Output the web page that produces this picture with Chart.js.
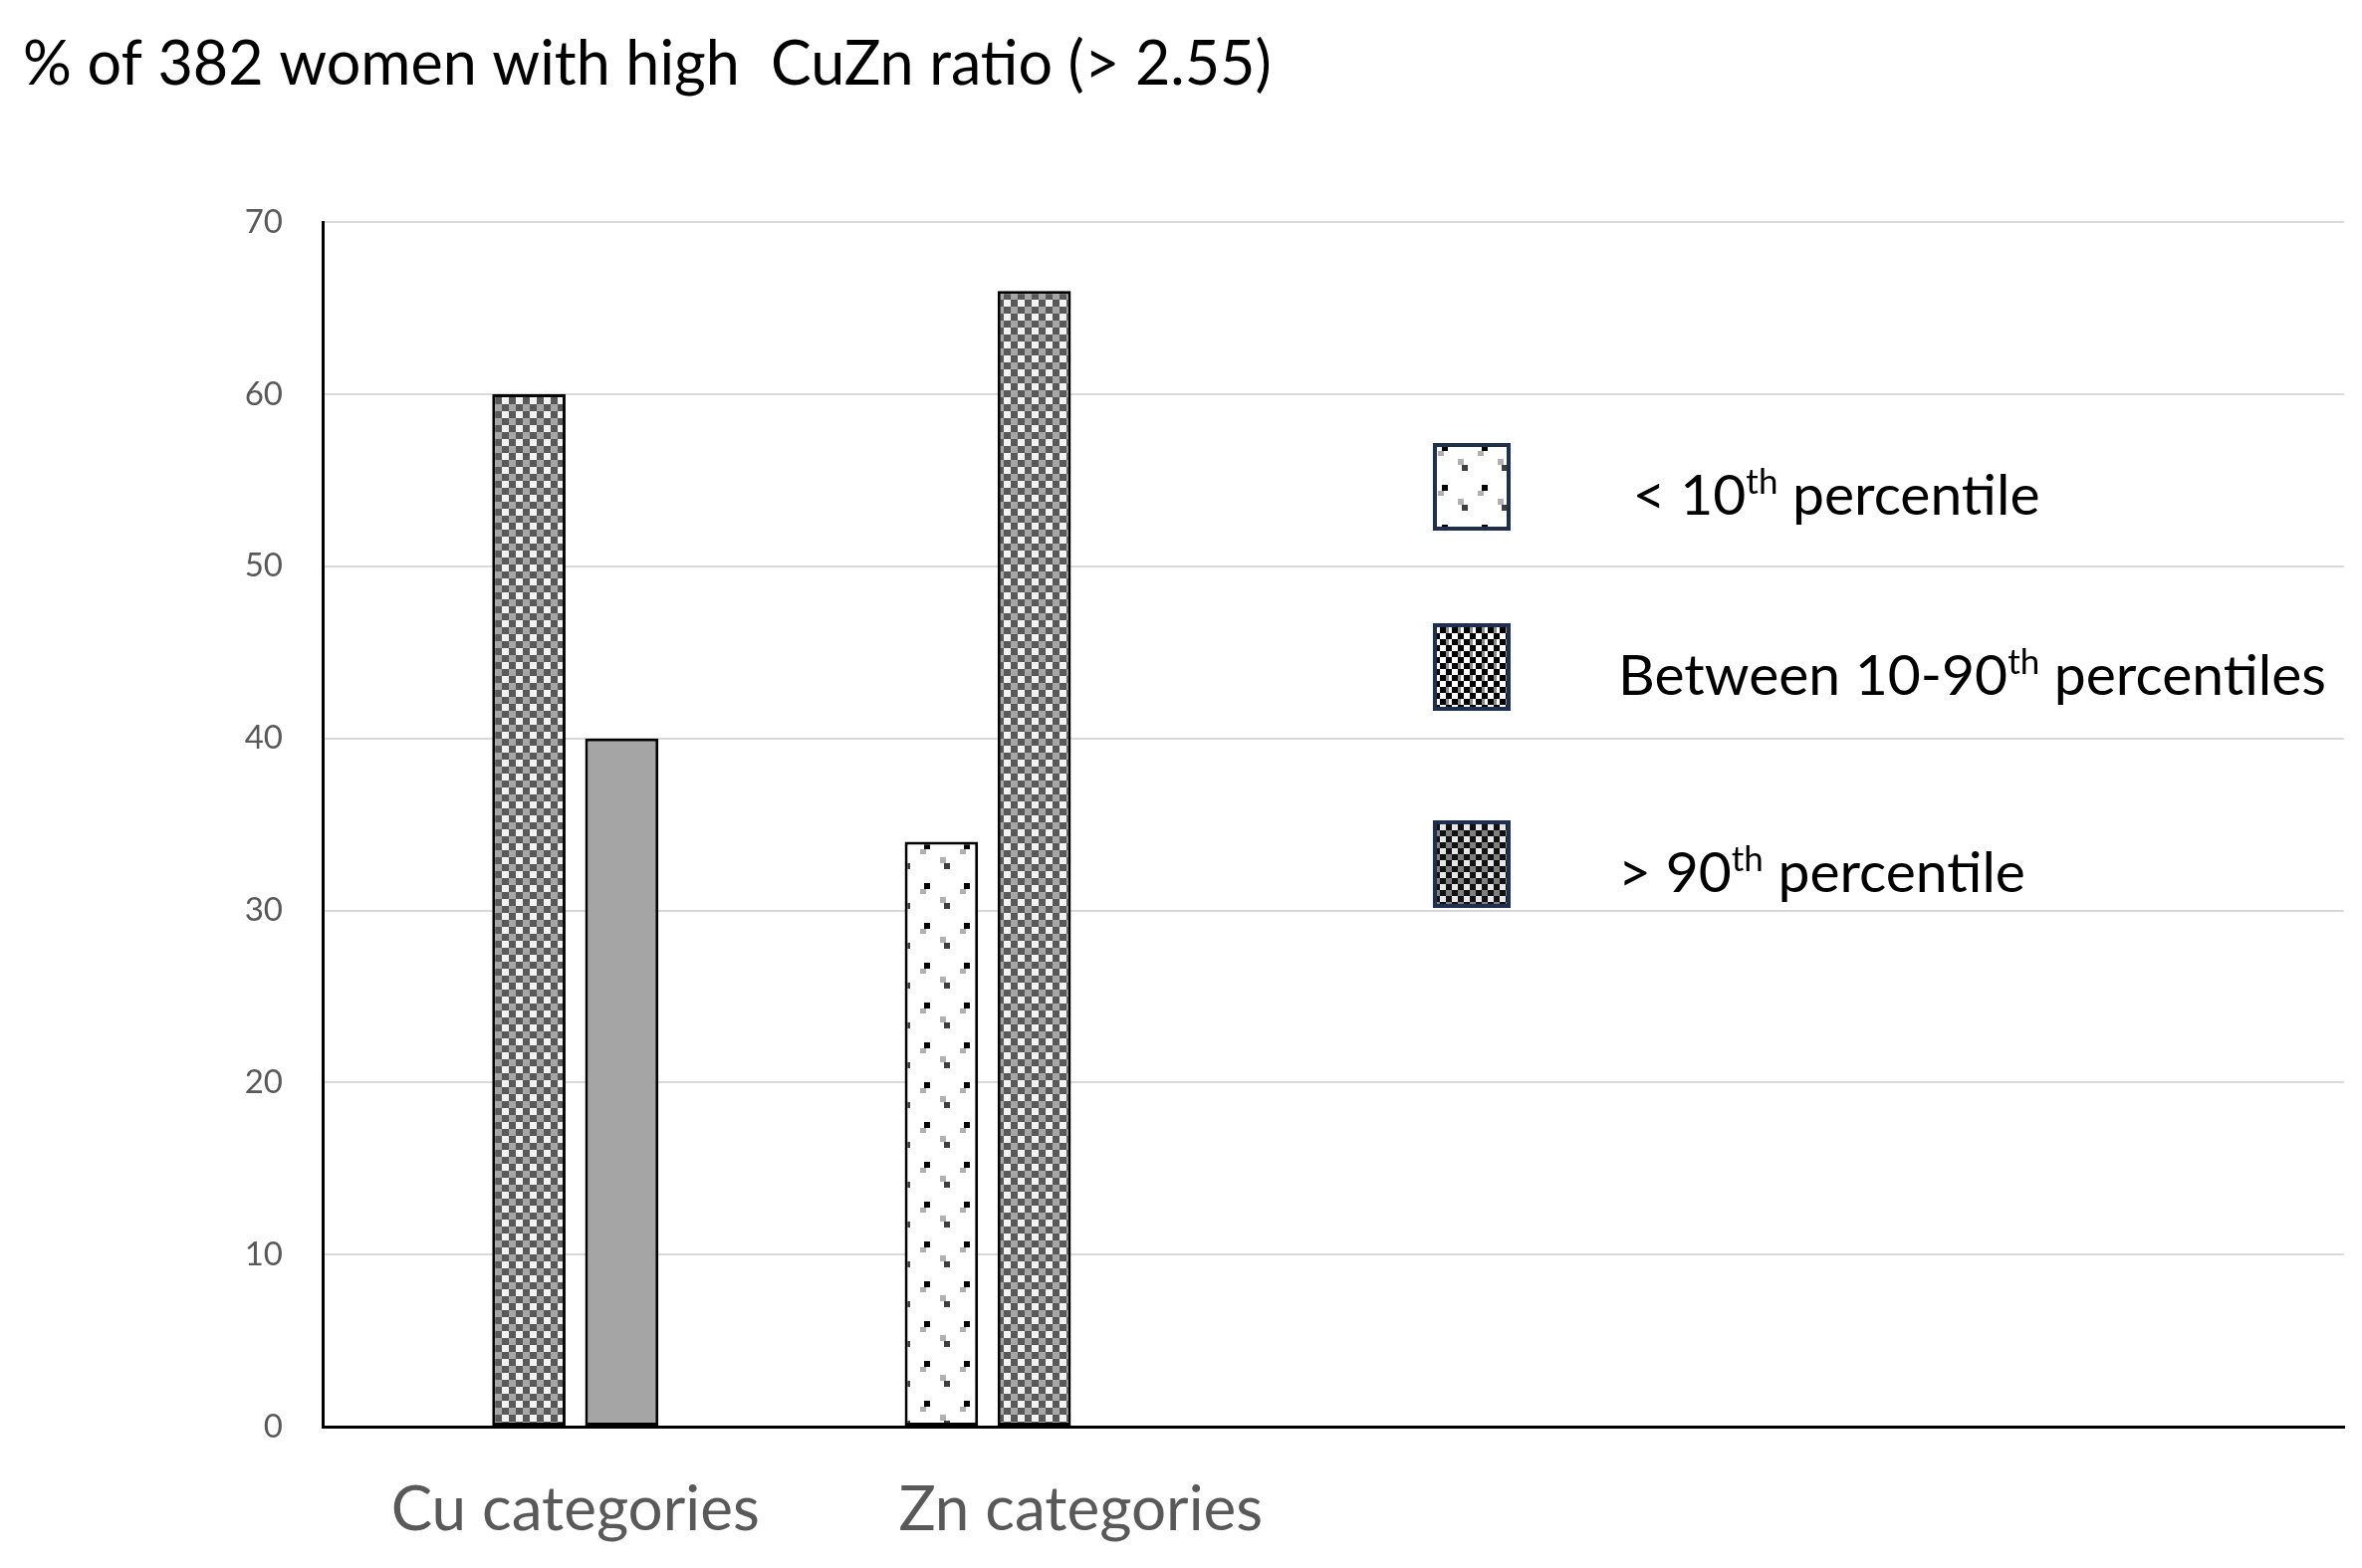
<!DOCTYPE html>
<html>
<head>
<meta charset="utf-8">
<script src="https://cdn.jsdelivr.net/npm/chart.js@4.4.1/dist/chart.umd.min.js"></script>
<style>
  html, body { margin: 0; padding: 0; background: #fff; }
  #wrap { width: 2372px; height: 1575px; }
</style>
</head>
<body>
<div id="wrap"><canvas id="cuznChart"></canvas></div>
<script>
// categories and series
var categories = ['Cu categories', 'Zn categories', '', ''];
var below10 = [null, 34, null, null];
var between10to90 = [60, 66, null, null];
var above90 = [40, null, null, null];
var series4 = [null, null, null, null];   // empty 4th series in the original sheet
var yTicks = [0, 10, 20, 30, 40, 50, 60, 70];

// legend texts, ^ marks a superscript
var legendLabels = [' < 10^th percentile', 'Between 10-90^th percentiles', '> 90^th percentile'];

var FONT = 'Lato, "Open Sans", sans-serif';

function tile(size, draw) {
    var c = document.createElement('canvas');
    c.width = size; c.height = size;
    var g = c.getContext('2d');
    g.fillStyle = '#ffffff';
    g.fillRect(0, 0, size, size);
    draw(g);
    return document.getElementById('cuznChart').getContext('2d').createPattern(c, 'repeat');
}

var dotsPattern = tile(40, function (g) {
    g.fillStyle = '#b0b0b0'; g.fillRect(4, 13, 6, 5);
    g.fillStyle = '#000000'; g.fillRect(8, 7, 6, 6);
    g.fillStyle = '#b0b0b0'; g.fillRect(24, 21, 6, 6);
    g.fillStyle = '#3f3f3f'; g.fillRect(28, 27, 6, 6);
});
var checkPattern = tile(14, function (g) {
    g.fillStyle = '#595959'; g.fillRect(0, 0, 7, 7); g.fillRect(7, 7, 7, 7);
    g.fillStyle = '#a6a6a6'; g.fillRect(7, 0, 7, 7);
    g.fillStyle = '#f2f2f2'; g.fillRect(0, 7, 7, 7);
});
var legendCheck = tile(12, function (g) {
    g.fillStyle = '#000000'; g.fillRect(0, 0, 6, 6); g.fillRect(6, 6, 6, 6);
    g.fillStyle = '#8c8c8c'; g.fillRect(0, 6, 3, 6);
});
var legendDark = tile(12, function (g) {
    g.fillStyle = '#111111'; g.fillRect(0, 0, 6, 6); g.fillRect(6, 6, 6, 6);
    g.fillStyle = '#7f7f7f'; g.fillRect(0, 6, 6, 6);
    g.fillStyle = '#e6e6e6'; g.fillRect(6, 0, 6, 6);
});
var legendFills = [dotsPattern, legendCheck, legendDark];

// legend drawn by hand: boxes with patterns and superscript text
var patternLegend = {
    id: 'patternLegend',
    afterDraw: function (chart) {
        var ctx = chart.ctx;
        var boxX = 1441, boxW = 74, boxH = 84, textX = 1625;
        var tops = [447, 628, 826];
        var size = 57;
        ctx.save();
        legendLabels.forEach(function (lab, i) {
            var top = tops[i];
            ctx.fillStyle = legendFills[i];
            ctx.fillRect(boxX, top, boxW, boxH);
            ctx.strokeStyle = '#1f2f4f';
            ctx.lineWidth = 4;
            ctx.strokeRect(boxX, top, boxW, boxH);

            var base = top + boxH / 2 + 28;
            var x = textX;
            ctx.fillStyle = '#000000';
            ctx.textBaseline = 'alphabetic';
            ctx.textAlign = 'left';
            lab.split(/(\^\w+)/).forEach(function (part) {
                if (!part) return;
                if (part.charAt(0) === '^') {
                    ctx.font = Math.round(size * 0.62) + 'px ' + FONT;
                    ctx.fillText(part.slice(1), x, base - size * 0.36);
                    x += ctx.measureText(part.slice(1)).width;
                } else {
                    ctx.font = size + 'px ' + FONT;
                    ctx.fillText(part, x, base);
                    x += ctx.measureText(part).width;
                }
            });
        });
        ctx.restore();
    }
};

var plain = function (s) { return s.replace('^', '').trim(); };

new Chart(document.getElementById('cuznChart'), {
    type: 'bar',
    data: {
        labels: categories,
        datasets: [
            { label: plain(legendLabels[0]), data: below10, backgroundColor: dotsPattern },
            { label: plain(legendLabels[1]), data: between10to90, backgroundColor: checkPattern },
            { label: plain(legendLabels[2]), data: above90, backgroundColor: '#a5a5a5' },
            { label: 'Series 4', data: series4, backgroundColor: '#ffffff' }
        ]
    },
    options: {
        responsive: true,
        maintainAspectRatio: false,
        devicePixelRatio: 1,
        animation: false,
        layout: { padding: { left: 23, right: 18, top: 0, bottom: 0 } },
        datasets: {
            bar: {
                borderColor: '#000000',
                borderWidth: 3,
                borderSkipped: false,
                categoryPercentage: 0.735,
                barPercentage: 0.79
            }
        },
        plugins: {
            legend: { display: false },
            tooltip: { enabled: false },
            title: {
                display: true,
                text: '% of 382 women with high  CuZn ratio (> 2.55)',
                align: 'start',
                color: '#000000',
                font: { family: FONT, size: 61, weight: 'normal' },
                padding: { top: 29, bottom: 121 }
            }
        },
        scales: {
            x: {
                grid: { display: false, drawTicks: false },
                border: { display: true, color: '#000000', width: 3 },
                ticks: {
                    color: '#595959',
                    font: { family: FONT, size: 62 },
                    padding: 47,
                    maxRotation: 0,
                    autoSkip: false
                },
                afterFit: function (s) { s.height = 142; }
            },
            y: {
                min: 0,
                max: 70,
                afterBuildTicks: function (s) { s.ticks = yTicks.map(function (v) { return { value: v }; }); },
                grid: { color: '#d9d9d9', lineWidth: 2, drawTicks: false },
                border: { display: true, color: '#000000', width: 3 },
                ticks: {
                    color: '#595959',
                    font: { family: FONT, size: 33 },
                    padding: 40
                },
                afterFit: function (s) { s.width = 301; }
            }
        }
    },
    plugins: [patternLegend]
});
</script>
</body>
</html>
